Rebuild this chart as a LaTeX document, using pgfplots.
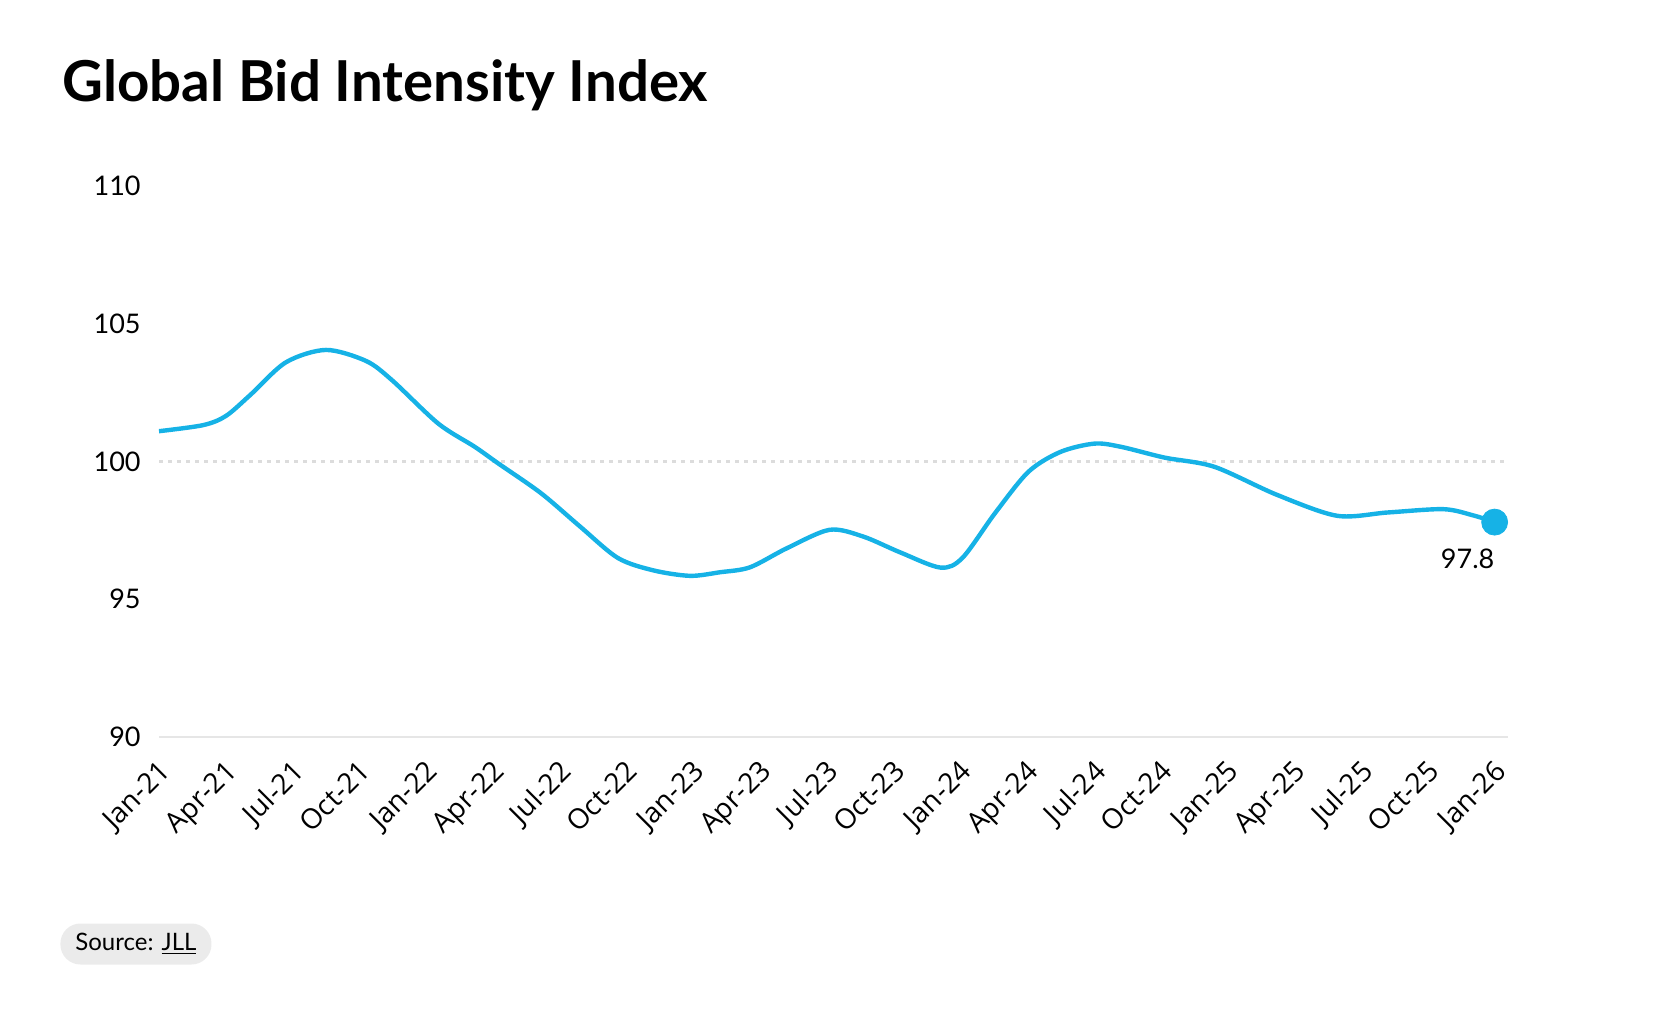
\documentclass[border=0pt]{standalone}
\usepackage{pgfplots}
\pgfplotsset{compat=1.18}
\usepackage{fontspec}
\setmainfont{Lato}
\newfontfamily\tickfont{Open Sans}
\definecolor{bidblue}{RGB}{22,178,230}
\definecolor{gridgray}{RGB}{220,220,220}
\definecolor{basegray}{RGB}{230,230,230}
\definecolor{pillgray}{RGB}{235,235,235}

\begin{document}
\begin{tikzpicture}
\path[use as bounding box] (0,0) rectangle (840pt,504pt);

% title
\node[anchor=base west, inner sep=0pt, font=\fontsize{28.2}{32}\selectfont\bfseries]
  at (31pt,453pt) {Global Bid Intensity Index};

\begin{axis}[
    at={(79.5pt,135.5pt)}, anchor=south west,
    scale only axis, width=674.5pt, height=275.5pt,
    xmin=0, xmax=20.2, ymin=90, ymax=110,
    clip=false,
    axis line style={draw=none},
    major tick length=0pt,
    ytick={90,95,100,105,110},
    xtick={0,...,20},
    xticklabels={Jan-21,Apr-21,Jul-21,Oct-21,Jan-22,Apr-22,Jul-22,Oct-22,Jan-23,Apr-23,Jul-23,Oct-23,Jan-24,Apr-24,Jul-24,Oct-24,Jan-25,Apr-25,Jul-25,Oct-25,Jan-26},
    /pgf/number format/assume math mode=true,
    yticklabel style={font=\fontsize{13.5}{15}\selectfont, anchor=east, inner sep=0pt, xshift=-9pt},
    xticklabel style={font=\tickfont\fontsize{14}{16}\selectfont, inner sep=0pt, xshift=-0.8pt, yshift=-10.5pt, rotate=45, anchor=north east},
]
% reference lines
\draw[basegray, line width=1.3pt] (axis cs:0,90) -- (axis cs:20.2,90);
\draw[gridgray, line width=1.2pt, dash pattern=on 2pt off 2.5pt] (axis cs:0,100) -- (axis cs:20.2,100);

% index (quarters since Jan-21)
\addplot[bidblue, line width=2.2pt, smooth, tension=0.5] coordinates {
 (0,101.10) (0.66,101.32) (1.0,101.65) (1.36,102.40) (1.9,103.60)
 (2.50,104.05) (3.1,103.65) (3.49,102.95) (4.18,101.38) (4.73,100.53)
 (5.08,99.93) (5.72,98.85) (6.3,97.65) (6.87,96.50) (7.4,96.05)
 (7.95,95.85) (8.4,95.98) (8.85,96.16) (9.4,96.85) (10.04,97.52)
 (10.54,97.28) (11.1,96.70) (11.7,96.15) (12.03,96.50) (12.52,98.13)
 (13.02,99.63) (13.5,100.35) (14.01,100.65) (14.41,100.53) (15.06,100.14)
 (15.80,99.81) (16.74,98.79) (17.64,98.03) (18.4,98.15) (19.23,98.27)
 (19.67,98.05) (20,97.80)
};
\addplot[only marks, mark=*, mark size=6.5pt, bidblue] coordinates {(20,97.8)};
\node[font=\fontsize{13.5}{15}\selectfont, xshift=-13.5pt, yshift=-18.5pt] at (axis cs:20,97.8) {97.8};
\end{axis}

% source pill
\node[anchor=west, fill=pillgray, rounded corners=10pt, minimum height=20.5pt, inner xsep=7.5pt, inner ysep=0pt,
  font=\fontsize{12}{14}\selectfont] at (30pt,32pt) {Source: \underline{JLL}};
\end{tikzpicture}
\end{document}
